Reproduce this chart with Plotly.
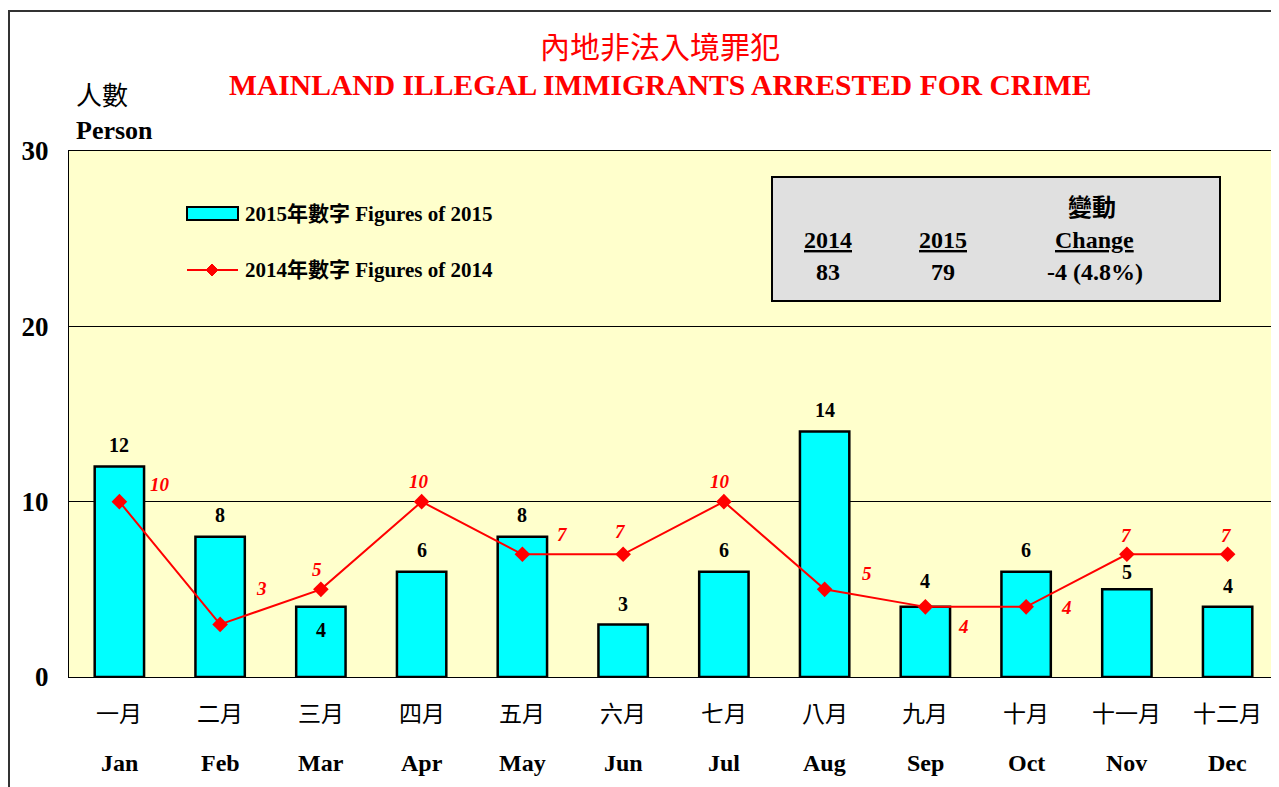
import plotly.graph_objects as go

months_zh = ["一月", "二月", "三月", "四月", "五月", "六月",
             "七月", "八月", "九月", "十月", "十一月", "十二月"]
months_en = ["Jan", "Feb", "Mar", "Apr", "May", "Jun",
             "Jul", "Aug", "Sep", "Oct", "Nov", "Dec"]
figures_2015 = [12, 8, 4, 6, 8, 3, 6, 14, 4, 6, 5, 4]
figures_2014 = [10, 3, 5, 10, 7, 7, 10, 5, 4, 4, 7, 7]
total_2014 = 83
total_2015 = 79
change_text = "-4 (4.8%)"

FONT = "Liberation Serif, 'Noto Sans CJK TC', serif"
OFF = 8  # page body margin
W, H = 1279 - OFF, 787 - OFF
PL, PR, PT, PB = 69, 1278, 151, 677  # plot area in page pixels

# label placement (pixel offsets) for the 2014 values, per month
line_label_shift = [(41, -17), (41, -36), (-4, -20), (-3, -20), (40, -20), (-3, -23),
                    (-4, -20), (42, -16), (38, 20), (40, 1), (0, -19), (-1, -19)]
# 2015 bar labels: above the bar, or inside near the top
bar_label_shift = [22, 22, -23, 22, 22, 20, 22, 22, 26, 22, 17, 21]


def px_x(p):
    return (p - PL) / (PR - PL)


def px_y(p):
    return (PB - p) / (PB - PT)


fig = go.Figure()
fig.add_trace(go.Bar(
    x=months_en, y=figures_2015, width=0.49,
    marker=dict(color="#00FFFF", line=dict(color="black", width=2.5)),
    showlegend=False, hoverinfo="skip"))
fig.add_trace(go.Scatter(
    x=months_en, y=figures_2014, mode="lines+markers",
    line=dict(color="#FF0000", width=2),
    marker=dict(symbol="diamond", size=12, color="#FF0000"),
    showlegend=False, hoverinfo="skip"))

ann = []


def label(xc, yc, text, size, color="black", xanchor="center"):
    ann.append(dict(x=px_x(xc), y=px_y(yc), xref="paper", yref="paper",
                    xanchor=xanchor, yanchor="middle", text=text, showarrow=False,
                    font=dict(size=size, color=color, family=FONT)))


for m, v, dy in zip(months_en, figures_2015, bar_label_shift):
    ann.append(dict(x=m, y=v, yshift=dy, text=f"<b>{v}</b>", showarrow=False,
                    xanchor="center", yanchor="middle",
                    font=dict(size=20, color="black", family=FONT)))
for m, v, (dx, dy) in zip(months_en, figures_2014, line_label_shift):
    ann.append(dict(x=m, y=v, xshift=dx, yshift=-dy, text=f"<b><i>{v}</i></b>",
                    showarrow=False, xanchor="center", yanchor="middle",
                    font=dict(size=19, color="#FF0000", family=FONT)))
for m, zh in zip(months_en, months_zh):
    ann.append(dict(x=m, y=px_y(714), yref="paper", text=zh, showarrow=False,
                    xanchor="center", yanchor="middle",
                    font=dict(size=23, color="black", family=FONT)))
    ann.append(dict(x=m, y=px_y(763), yref="paper", text=f"<b>{m}</b>", showarrow=False,
                    xanchor="center", yanchor="middle",
                    font=dict(size=24, color="black", family=FONT)))

# titles
label(660, 47, "內地非法入境罪犯", 30, "#FF0000")
label(660, 85, "<b>MAINLAND ILLEGAL IMMIGRANTS ARRESTED FOR CRIME</b>", 29.6, "#FF0000")
label(74, 97, "人數", 26, xanchor="left")
label(74, 130, "<b>Person</b>", 26, xanchor="left")

# custom legend
label(243, 214, "<b>2015年數字 Figures of 2015</b>", 21, xanchor="left")
label(243, 270, "<b>2014年數字 Figures of 2014</b>", 21, xanchor="left")

# summary box text
label(1092, 208, "<b>變動</b>", 24)
label(828, 240, "<b><u>2014</u></b>", 24)
label(943, 240, "<b><u>2015</u></b>", 24)
label(1094, 240, "<b><u>Change</u></b>", 24)
label(828, 272, f"<b>{total_2014}</b>", 24)
label(943, 272, f"<b>{total_2015}</b>", 24)
label(1095, 272, f"<b>{change_text}</b>", 24)

cx, cy = 212, 270
shapes = [
    # outer frame
    dict(type="rect", xref="paper", yref="paper", layer="below",
         x0=px_x(9), x1=px_x(1290), y0=px_y(800), y1=px_y(11),
         line=dict(color="#333333", width=2)),
    # summary box
    dict(type="rect", xref="paper", yref="paper",
         x0=px_x(772), x1=px_x(1220), y0=px_y(301), y1=px_y(177),
         fillcolor="#E0E0E0", line=dict(color="black", width=2), layer="below"),
    # legend swatches
    dict(type="rect", xref="paper", yref="paper",
         x0=px_x(187), x1=px_x(238), y0=px_y(220), y1=px_y(207),
         fillcolor="#00FFFF", line=dict(color="black", width=2)),
    dict(type="line", xref="paper", yref="paper",
         x0=px_x(187), x1=px_x(238), y0=px_y(270), y1=px_y(270),
         line=dict(color="#FF0000", width=2)),
    dict(type="path", xref="paper", yref="paper",
         path=(f"M {px_x(cx - 6)} {px_y(cy)} L {px_x(cx)} {px_y(cy - 6)} "
               f"L {px_x(cx + 6)} {px_y(cy)} L {px_x(cx)} {px_y(cy + 6)} Z"),
         fillcolor="#FF0000", line=dict(color="#FF0000", width=1)),
]

fig.update_layout(
    width=W, height=H,
    margin=dict(l=PL - OFF, r=W - (PR - OFF), t=PT - OFF, b=H - (PB - OFF), pad=0),
    paper_bgcolor="white", plot_bgcolor="#FFFFCC",
    font=dict(family=FONT),
    annotations=ann, shapes=shapes,
)
fig.update_xaxes(type="category", range=[-0.5, 11.5], showticklabels=False,
                 showline=True, mirror=True, linecolor="black", linewidth=1,
                 showgrid=False, zeroline=False)
fig.update_yaxes(range=[0, 30], dtick=10, showgrid=True, gridcolor="black", gridwidth=1,
                 showline=True, mirror=True, linecolor="black", linewidth=1,
                 zeroline=False, ticks="", ticklabelstandoff=14,
                 tickfont=dict(size=27, color="black", family=FONT),
                 tickprefix="<b>", ticksuffix="</b>")

fig.write_html("out.html")
